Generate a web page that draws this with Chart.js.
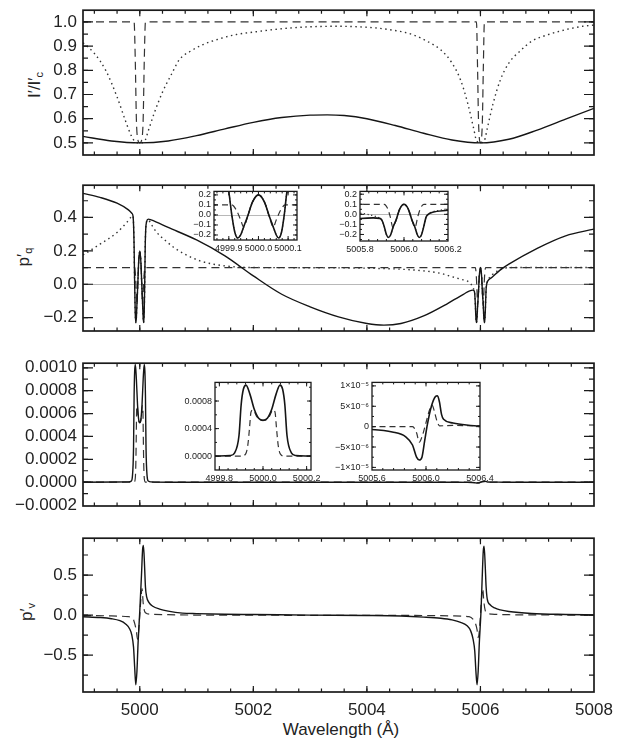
<!DOCTYPE html>
<html>
<head>
<meta charset="utf-8">
<script src="https://cdn.jsdelivr.net/npm/chart.js@4.4.1/dist/chart.umd.min.js"></script>
<style>
  html, body { margin: 0; padding: 0; background: #fff; }
  #page { position: relative; width: 635px; height: 744px; overflow: hidden;
          font-family: "Liberation Sans", "DejaVu Sans", Arial, sans-serif; color: #222; }
  #page canvas { position: absolute; }
  .yt { position: absolute; transform: translate(-50%, -50%) rotate(-90deg);
        white-space: nowrap; font-size: 17px; line-height: 1; }
  .yt sub { font-size: 11px; vertical-align: -3px; }
  .xt { position: absolute; transform: translate(-50%, -50%); white-space: nowrap; font-size: 17px; }
</style>
</head>
<body>
<div id="page">
  <div class="yt" style="left:35px; top:85px;">I′/I′<sub>c</sub></div>
  <div class="yt" style="left:24px; top:257px;">p′<sub>q</sub></div>
  <div class="yt" style="left:27px; top:612px;">p′<sub>v</sub></div>
  <div class="xt" style="left:341px; top:730px;">Wavelength (Å)</div>
</div>
<script>
// ---------- tick labels ----------
const wavelengthTicks = [5000, 5002, 5004, 5006, 5008];
const intensityTicks = [0.5, 0.6, 0.7, 0.8, 0.9, 1.0];
const qTicks = [-0.2, 0.0, 0.2, 0.4];
const uTicks = [-0.0002, 0.0, 0.0002, 0.0004, 0.0006, 0.0008, 0.0010];
const vTicks = [-0.5, 0.0, 0.5];
const qInsetTicks = [-0.2, -0.1, 0.0, 0.1, 0.2];
const qInsetAWave = [4999.9, 5000.0, 5000.1];
const qInsetBWave = [5005.8, 5006.0, 5006.2];
const uInsetAWave = [4999.8, 5000.0, 5000.2];
const uInsetATicks = [0.0, 0.0004, 0.0008];
const uInsetBWave = [5005.6, 5006.0, 5006.4];
const uInsetBTicks = [-1e-5, -5e-6, 0, 5e-6, 1e-5];

// ---------- intensity I'/Ic' ----------
const iSolidX = [4999.0, 4999.5, 5000.0, 5000.5, 5001.0, 5001.5, 5002.0, 5002.5, 5003.0, 5003.3, 5003.6, 5004.0, 5004.5, 5005.0, 5005.5, 5006.0, 5006.5, 5007.0, 5007.5, 5008.0];
const iSolidY = [0.527, 0.508, 0.500, 0.508, 0.530, 0.558, 0.585, 0.605, 0.615, 0.616, 0.613, 0.600, 0.572, 0.540, 0.512, 0.500, 0.515, 0.553, 0.598, 0.643];

const iDotX = [4999.0, 4999.2, 4999.4, 4999.6, 4999.75, 4999.85, 4999.92, 5000.0, 5000.08, 5000.15, 5000.25, 5000.4, 5000.55, 5000.7, 5000.9, 5001.1, 5001.4, 5001.7, 5002.0, 5002.5, 5003.0, 5003.5, 5004.0, 5004.4, 5004.8, 5005.1, 5005.3, 5005.5, 5005.65, 5005.78, 5005.88, 5005.93, 5006.0, 5006.07, 5006.12, 5006.22, 5006.35, 5006.5, 5006.7, 5006.9, 5007.2, 5007.5, 5007.8, 5008.0];
const iDotY = [0.914, 0.87, 0.80, 0.69, 0.59, 0.53, 0.505, 0.50, 0.505, 0.55, 0.62, 0.71, 0.78, 0.845, 0.88, 0.905, 0.93, 0.948, 0.958, 0.972, 0.980, 0.982, 0.978, 0.968, 0.948, 0.915, 0.885, 0.83, 0.76, 0.66, 0.56, 0.51, 0.50, 0.51, 0.56, 0.66, 0.76, 0.83, 0.88, 0.92, 0.948, 0.968, 0.982, 0.987];

const iDashX = [4999.0, 4999.9, 4999.92, 4999.94, 4999.96, 5000.0, 5000.04, 5000.06, 5000.08, 5000.1, 5005.93, 5005.95, 5005.965, 5005.98, 5006.0, 5006.02, 5006.035, 5006.05, 5006.07, 5008.0];
const iDashY = [1.0, 1.0, 0.85, 0.6, 0.52, 0.5, 0.52, 0.6, 0.85, 1.0, 1.0, 0.8, 0.6, 0.52, 0.5, 0.52, 0.6, 0.8, 1.0, 1.0];

// ---------- linear polarisation p'q ----------
const qSolidX = [4999.0, 4999.3, 4999.6, 4999.8, 4999.86, 4999.88, 4999.89, 4999.9, 4999.91, 4999.92, 4999.93, 4999.94, 4999.95, 4999.965, 4999.98, 5000.0, 5000.02, 5000.035, 5000.05, 5000.06, 5000.068, 5000.078, 5000.087, 5000.096, 5000.105, 5000.12, 5000.15, 5000.2, 5000.5, 5001.0, 5001.5, 5002.0, 5002.5, 5003.0, 5003.5, 5004.0, 5004.3, 5004.6, 5005.0, 5005.4, 5005.7, 5005.86, 5005.89, 5005.9, 5005.91, 5005.92, 5005.93, 5005.94, 5005.95, 5005.965, 5005.98, 5006.0, 5006.02, 5006.035, 5006.05, 5006.06, 5006.07, 5006.08, 5006.09, 5006.1, 5006.11, 5006.13, 5006.2, 5006.34, 5006.5, 5007.0, 5007.5, 5008.0];
const qSolidY = [0.544, 0.52, 0.485, 0.445, 0.425, 0.41, 0.36, 0.23, 0.0, -0.17, -0.23, -0.2, -0.12, 0.0, 0.13, 0.2, 0.13, 0.0, -0.12, -0.2, -0.23, -0.17, 0.0, 0.23, 0.33, 0.375, 0.39, 0.385, 0.34, 0.265, 0.17, 0.05, -0.06, -0.135, -0.195, -0.235, -0.245, -0.235, -0.19, -0.12, -0.06, -0.035, -0.04, -0.06, -0.12, -0.2, -0.23, -0.2, -0.13, -0.05, 0.05, 0.1, 0.05, -0.05, -0.13, -0.2, -0.23, -0.2, -0.12, -0.03, 0.0, 0.02, 0.04, 0.083, 0.12, 0.215, 0.29, 0.33];

const qDotX = [4999.0, 4999.3, 4999.6, 4999.77, 4999.84, 4999.88, 4999.89, 4999.9, 4999.91, 4999.92, 4999.93, 4999.94, 4999.95, 4999.965, 4999.98, 5000.0, 5000.02, 5000.035, 5000.05, 5000.06, 5000.068, 5000.078, 5000.087, 5000.096, 5000.105, 5000.12, 5000.15, 5000.2, 5000.3, 5000.47, 5000.6, 5000.77, 5001.06, 5001.3, 5001.64, 5002.0, 5003.0, 5004.0, 5004.6, 5005.0, 5005.3, 5005.5, 5005.65, 5005.8, 5005.87, 5005.89, 5005.9, 5005.91, 5005.92, 5005.93, 5005.94, 5005.95, 5005.965, 5005.98, 5006.0, 5006.02, 5006.035, 5006.05, 5006.06, 5006.07, 5006.08, 5006.09, 5006.1, 5006.11, 5006.13, 5006.16, 5006.2, 5006.3, 5006.4, 5006.6, 5007.0, 5008.0];
const qDotY = [0.175, 0.24, 0.31, 0.37, 0.40, 0.41, 0.36, 0.23, 0.0, -0.17, -0.23, -0.2, -0.12, 0.0, 0.13, 0.2, 0.13, 0.0, -0.12, -0.2, -0.23, -0.17, 0.0, 0.23, 0.33, 0.375, 0.385, 0.36, 0.31, 0.256, 0.22, 0.184, 0.14, 0.12, 0.105, 0.1, 0.099, 0.096, 0.09, 0.08, 0.065, 0.045, 0.03, 0.012, -0.02, -0.04, -0.06, -0.12, -0.2, -0.23, -0.2, -0.13, -0.05, 0.05, 0.1, 0.05, -0.05, -0.13, -0.2, -0.23, -0.2, -0.12, -0.03, 0.0, 0.025, 0.04, 0.055, 0.08, 0.095, 0.1, 0.1, 0.1];

const qDashX = [4999.0, 4999.91, 4999.925, 4999.94, 4999.95, 4999.965, 4999.98, 5000.0, 5000.02, 5000.035, 5000.05, 5000.06, 5000.075, 5000.09, 5005.91, 5005.925, 5005.937, 5005.95, 5005.965, 5005.98, 5006.0, 5006.02, 5006.035, 5006.05, 5006.063, 5006.075, 5006.09, 5008.0];
const qDashY = [0.1, 0.1, 0.05, -0.05, -0.12, 0.0, 0.13, 0.2, 0.13, 0.0, -0.12, -0.05, 0.05, 0.1, 0.1, 0.06, -0.02, -0.13, -0.05, 0.05, 0.1, 0.05, -0.05, -0.13, -0.02, 0.06, 0.1, 0.1];

// ---------- third Stokes-type profile ----------
const uSolidX = [4999.0, 4999.8, 4999.85, 4999.87, 4999.89, 4999.9, 4999.91, 4999.922, 4999.94, 4999.96, 4999.98, 5000.0, 5000.02, 5000.04, 5000.06, 5000.078, 5000.09, 5000.1, 5000.11, 5000.13, 5000.15, 5000.2, 5000.5, 5005.0, 5005.6, 5005.75, 5005.85, 5005.9, 5005.93, 5005.95, 5005.97, 5005.99, 5006.01, 5006.04, 5006.07, 5006.085, 5006.1, 5006.115, 5006.13, 5006.2, 5006.3, 5006.4, 5008.0];
const uSolidY = [0, 0.000003, 0.00001, 0.00005, 0.0003, 0.00075, 0.00097, 0.00103, 0.0009, 0.00068, 0.00055, 0.00052, 0.00055, 0.00068, 0.0009, 0.00103, 0.00097, 0.00075, 0.0003, 0.00005, 0.00001, 0.000003, 0, -0.0000003, -0.0000007, -0.0000013, -0.0000025, -0.0000045, -0.0000075, -0.0000082, -0.0000075, -0.0000035, 0.0000005, 0.000005, 0.0000074, 0.0000076, 0.000006, 0.000003, 0.0000018, 0.0000009, 0.0000004, 0.00000015, 0];

const uDashX = [4999.0, 4999.9, 4999.92, 4999.93, 4999.938, 4999.945, 4999.955, 4999.97, 4999.985, 5000.0, 5000.015, 5000.03, 5000.045, 5000.055, 5000.062, 5000.07, 5000.08, 5000.1, 5005.9, 5005.93, 5005.95, 5005.975, 5006.0, 5006.03, 5006.045, 5006.06, 5006.08, 5006.1, 5006.2, 5006.4, 5008.0];
const uDashY = [0, 0, 0.00003, 0.00015, 0.0004, 0.00064, 0.00067, 0.00058, 0.00053, 0.00052, 0.00053, 0.00058, 0.00067, 0.00064, 0.0004, 0.00015, 0.00003, 0, 0, -0.0000015, -0.0000038, -0.000002, 0.000001, 0.0000045, 0.0000053, 0.000004, 0.0000015, 0.0000002, 0.0000003, 0.0000002, 0];

// ---------- circular polarisation p'v ----------
const vSolidX = [4999.0, 4999.3, 4999.5, 4999.65, 4999.75, 4999.82, 4999.86, 4999.89, 4999.91, 4999.93, 4999.95, 4999.97, 5000.0, 5000.03, 5000.05, 5000.065, 5000.085, 5000.1, 5000.12, 5000.16, 5000.23, 5000.35, 5000.5, 5000.75, 5001.0, 5001.5, 5002.0, 5003.0, 5004.0, 5004.6, 5005.0, 5005.3, 5005.5, 5005.65, 5005.76, 5005.83, 5005.87, 5005.9, 5005.92, 5005.94, 5005.96, 5005.98, 5006.01, 5006.03, 5006.05, 5006.065, 5006.085, 5006.1, 5006.12, 5006.17, 5006.25, 5006.35, 5006.5, 5006.9, 5007.5, 5008.0];
const vSolidY = [-0.02, -0.03, -0.045, -0.07, -0.11, -0.17, -0.25, -0.4, -0.65, -0.87, -0.7, -0.35, 0.05, 0.5, 0.82, 0.87, 0.6, 0.35, 0.23, 0.16, 0.11, 0.075, 0.05, 0.025, 0.018, 0.01, 0.007, 0.0, -0.005, -0.012, -0.025, -0.04, -0.06, -0.09, -0.13, -0.2, -0.3, -0.45, -0.7, -0.87, -0.7, -0.35, 0.05, 0.45, 0.8, 0.86, 0.6, 0.35, 0.2, 0.13, 0.09, 0.065, 0.045, 0.02, 0.008, 0.003];

const vDashX = [4999.0, 4999.5, 4999.8, 4999.88, 4999.9, 4999.92, 4999.94, 4999.96, 4999.98, 5000.0, 5000.02, 5000.04, 5000.06, 5000.08, 5000.1, 5000.2, 5000.5, 5001.0, 5005.0, 5005.5, 5005.8, 5005.88, 5005.91, 5005.94, 5005.96, 5005.98, 5006.0, 5006.02, 5006.04, 5006.06, 5006.08, 5006.1, 5006.2, 5006.5, 5007.0, 5008.0];
const vDashY = [-0.005, -0.01, -0.02, -0.04, -0.08, -0.13, -0.2, -0.3, -0.2, 0.0, 0.2, 0.33, 0.15, 0.06, 0.03, 0.01, 0.005, 0.0, -0.005, -0.01, -0.02, -0.06, -0.1, -0.18, -0.28, -0.2, 0.0, 0.22, 0.33, 0.17, 0.07, 0.03, 0.012, 0.005, 0.002, 0.0];

// ---------- drawing helpers ----------
const pts = (xs, ys) => xs.map((x, i) => ({ x, y: ys[i] }));
const minus = s => s.replace('-', '\u2212');
const fixed = n => v => minus(Number(v).toFixed(n));
const SUP = { '-': '\u207B', '0': '\u2070', '1': '\u00B9', '2': '\u00B2', '3': '\u00B3', '4': '\u2074', '5': '\u2075', '6': '\u2076', '7': '\u2077', '8': '\u2078', '9': '\u2079' };
function sciLabel(v) {
  if (Math.abs(v) < 1e-12) return '0';
  const a = Math.abs(v);
  const e = Math.floor(Math.log10(a) + 1e-9);
  const m = Math.round(a / Math.pow(10, e));
  return (v < 0 ? '\u2212' : '') + m + '\u00D710' + String(e).split('').map(c => SUP[c]).join('');
}

const LINE = {
  solid:  { borderColor: '#151515', borderDash: [] },
  dashed: { borderColor: '#333333', borderDash: [8, 5] },
  dotted: { borderColor: '#333333', borderDash: [1.5, 3.5] }
};
function series(data, kind, width, dash) {
  const s = LINE[kind];
  return {
    data, borderColor: s.borderColor, borderWidth: width,
    borderDash: dash || s.borderDash, pointRadius: 0, fill: false,
    cubicInterpolationMode: 'monotone', borderCapStyle: 'butt'
  };
}

// Box outline with inward major and minor tick marks on all four sides
const frameTicks = {
  id: 'frameTicks',
  beforeDraw(chart, args, o) {
    if (!o.fillBox) return;
    const a = chart.chartArea, ctx = chart.ctx;
    ctx.save();
    ctx.fillStyle = '#ffffff';
    ctx.fillRect(a.left, a.top, a.right - a.left, a.bottom - a.top);
    ctx.restore();
  },
  beforeDatasetsDraw(chart, args, o) {
    if (!o.zeroLine) return;
    const a = chart.chartArea, ctx = chart.ctx;
    const y = Math.round(chart.scales.y.getPixelForValue(0)) + 0.5;
    ctx.save();
    ctx.strokeStyle = '#b8b8b8';
    ctx.lineWidth = 1;
    ctx.beginPath(); ctx.moveTo(a.left, y); ctx.lineTo(a.right, y); ctx.stroke();
    ctx.restore();
  },
  afterDatasetsDraw(chart, args, o) {
    if (!o.lineWidth) return;
    const { ctx, chartArea: a, scales } = chart;
    ctx.save();
    ctx.strokeStyle = '#1a1a1a';
    ctx.lineWidth = o.tickWidth;
    const multiples = (scale, step) => {
      const out = [];
      const k0 = Math.ceil(scale.min / step - 1e-6), k1 = Math.floor(scale.max / step + 1e-6);
      for (let k = k0; k <= k1; k++) out.push(k * step);
      return out;
    };
    const draw = (scale, values, len, horiz) => {
      ctx.beginPath();
      values.forEach(v => {
        const p = scale.getPixelForValue(v);
        if (horiz) {
          if (p < a.left + 1 || p > a.right - 1) return;
          ctx.moveTo(p, a.bottom); ctx.lineTo(p, a.bottom - len);
          ctx.moveTo(p, a.top); ctx.lineTo(p, a.top + len);
        } else {
          if (p < a.top + 1 || p > a.bottom - 1) return;
          ctx.moveTo(a.left, p); ctx.lineTo(a.left + len, p);
          ctx.moveTo(a.right, p); ctx.lineTo(a.right - len, p);
        }
      });
      ctx.stroke();
    };
    const xs = scales.x, ys = scales.y;
    draw(xs, multiples(xs, o.xMinor), o.xLen[1], true);
    draw(xs, xs.ticks.map(t => t.value), o.xLen[0], true);
    draw(ys, multiples(ys, o.yMinor), o.yLen[1], false);
    draw(ys, ys.ticks.map(t => t.value), o.yLen[0], false);
    ctx.lineWidth = o.lineWidth;
    ctx.strokeRect(a.left, a.top, a.right - a.left, a.bottom - a.top);
    ctx.restore();
  }
};
Chart.register(frameTicks);
Chart.defaults.font.family = '"Liberation Sans", "DejaVu Sans", Arial, sans-serif';
Chart.defaults.color = '#222';

// spec.box is the plot frame in page pixels; the canvas is sized around it
function panel(spec) {
  const b = spec.box;
  const cv = document.createElement('canvas');
  const w = (b.r - b.l) + spec.yw + spec.pr;
  const h = (b.b - b.t) + spec.pt + spec.xh;
  cv.width = w; cv.height = h;
  cv.style.left = (b.l - spec.yw) + 'px';
  cv.style.top = (b.t - spec.pt) + 'px';
  cv.style.width = w + 'px'; cv.style.height = h + 'px';
  document.getElementById('page').appendChild(cv);
  const showX = !!spec.xTicks;
  return new Chart(cv, {
    type: 'line',
    data: { datasets: spec.datasets },
    options: {
      responsive: false, animation: false, devicePixelRatio: 1,
      layout: { padding: { left: 0, top: spec.pt, right: spec.pr, bottom: showX ? 0 : spec.xh } },
      plugins: { legend: { display: false }, tooltip: { enabled: false }, frameTicks: spec.frame },
      scales: {
        x: {
          type: 'linear', min: spec.xRange[0], max: spec.xRange[1], display: showX,
          grid: { display: false, drawTicks: false }, border: { display: false },
          afterBuildTicks: s => { s.ticks = (spec.xTicks || wavelengthTicks).map(v => ({ value: v })); },
          afterFit: s => { s.height = spec.xh; },
          ticks: { autoSkip: false, maxRotation: 0, padding: spec.xPad, font: { size: spec.fs },
                   callback: spec.xFmt }
        },
        y: {
          type: 'linear', min: spec.yRange[0], max: spec.yRange[1],
          grid: { display: false, drawTicks: false }, border: { display: false },
          afterBuildTicks: s => { s.ticks = spec.yTicks.map(v => ({ value: v })); },
          afterFit: s => { s.width = spec.yw; },
          ticks: { autoSkip: false, padding: spec.yPad, font: { size: spec.fs }, callback: spec.yFmt }
        }
      }
    }
  });
}

const X_RANGE = [4999, 5008];
const mainFrame = (yMinor) => ({ lineWidth: 1.7, tickWidth: 1.2, xMinor: 0.4, yMinor, xLen: [6, 3.5], yLen: [10, 5] });
const insetFrame = (xMinor, yMinor, zero) => ({ lineWidth: 1.3, tickWidth: 1, xMinor, yMinor, xLen: [4, 2], yLen: [4, 2], fillBox: true, zeroLine: zero });
const MAIN = { yw: 83, pr: 41, pt: 10, fs: 17, yPad: 6, xPad: 8 };

// Panel 1: intensity
panel(Object.assign({}, MAIN, {
  box: { l: 83, r: 594, t: 4, b: 165 }, xh: 10,
  xRange: X_RANGE, yRange: [0.45, 1.0485], yTicks: intensityTicks, yFmt: fixed(1),
  frame: mainFrame(0.05),
  datasets: [series(pts(iSolidX, iSolidY), 'solid', 1.4),
             series(pts(iDotX, iDotY), 'dotted', 1.4),
             series(pts(iDashX, iDashY), 'dashed', 1.2)]
}));

// Panel 2: p'q
panel(Object.assign({}, MAIN, {
  box: { l: 83, r: 594, t: 179, b: 341 }, xh: 10,
  xRange: X_RANGE, yRange: [-0.28, 0.593], yTicks: qTicks, yFmt: fixed(1),
  frame: Object.assign(mainFrame(0.1), { zeroLine: true }),
  datasets: [series(pts(qSolidX, qSolidY), 'solid', 1.4),
             series(pts(qDotX, qDotY), 'dotted', 1.4),
             series(pts(qDashX, qDashY), 'dashed', 1.2)]
}));

// Panel 3
panel(Object.assign({}, MAIN, {
  box: { l: 83, r: 594, t: 357, b: 516 }, xh: 10,
  xRange: X_RANGE, yRange: [-0.000208, 0.00104], yTicks: uTicks, yFmt: fixed(4),
  frame: mainFrame(0.0001),
  datasets: [series(pts(uSolidX, uSolidY), 'solid', 1.4),
             series(pts(uDashX, uDashY), 'dashed', 1.2)]
}));

// Panel 4: p'v with the wavelength axis
panel(Object.assign({}, MAIN, {
  box: { l: 83, r: 594, t: 532, b: 692 }, xh: 52,
  xRange: X_RANGE, xTicks: wavelengthTicks, xFmt: v => String(v),
  yRange: [-0.96, 0.96], yTicks: vTicks, yFmt: fixed(1),
  frame: mainFrame(0.25),
  datasets: [series(pts(vSolidX, vSolidY), 'solid', 1.4),
             series(pts(vDashX, vDashY), 'dashed', 1.2)]
}));

// Zoomed views of the two line cores
const INSET = { yw: 44, pr: 18, pt: 4, xh: 16, fs: 9, yPad: 3, xPad: 3 };

panel(Object.assign({}, INSET, {
  box: { l: 214, r: 297, t: 187, b: 240 },
  xRange: [4999.85, 5000.13], xTicks: qInsetAWave, xFmt: fixed(1),
  yRange: [-0.25, 0.235], yTicks: qInsetTicks, yFmt: fixed(1),
  frame: insetFrame(0.02, 0.05, true),
  datasets: [series(pts(qSolidX, qSolidY), 'solid', 1.6),
             series(pts(qDotX, qDotY), 'dotted', 1.2, [1.2, 2.5]),
             series(pts(qDashX, qDashY), 'dashed', 1.2, [6, 4])]
}));

panel(Object.assign({}, INSET, {
  box: { l: 360, r: 448, t: 187, b: 241 },
  xRange: [5005.8, 5006.2], xTicks: qInsetBWave, xFmt: fixed(1),
  yRange: [-0.265, 0.228], yTicks: qInsetTicks, yFmt: fixed(1),
  frame: insetFrame(0.04, 0.05, true),
  datasets: [series(pts(qSolidX, qSolidY), 'solid', 1.6),
             series(pts(qDotX, qDotY), 'dotted', 1.2, [1.2, 2.5]),
             series(pts(qDashX, qDashY), 'dashed', 1.2, [6, 4])]
}));

panel(Object.assign({}, INSET, {
  box: { l: 215, r: 311, t: 378, b: 470 },
  xRange: [4999.78, 5000.22], xTicks: uInsetAWave, xFmt: fixed(1),
  yRange: [-0.0002, 0.00107], yTicks: uInsetATicks, yFmt: fixed(4),
  frame: insetFrame(0.04, 0.0002, false),
  datasets: [series(pts(uSolidX, uSolidY), 'solid', 1.6),
             series(pts(uDashX, uDashY), 'dashed', 1.2, [6, 4])]
}));

panel(Object.assign({}, INSET, {
  box: { l: 372, r: 480, t: 378, b: 470 },
  xRange: [5005.6, 5006.4], xTicks: uInsetBWave, xFmt: fixed(1),
  yRange: [-1.064e-5, 1.086e-5], yTicks: uInsetBTicks, yFmt: sciLabel,
  frame: insetFrame(0.08, 2.5e-6, false),
  datasets: [series(pts(uSolidX, uSolidY), 'solid', 1.6),
             series(pts(uDashX, uDashY), 'dashed', 1.2, [6, 4])]
}));
</script>
</body>
</html>
